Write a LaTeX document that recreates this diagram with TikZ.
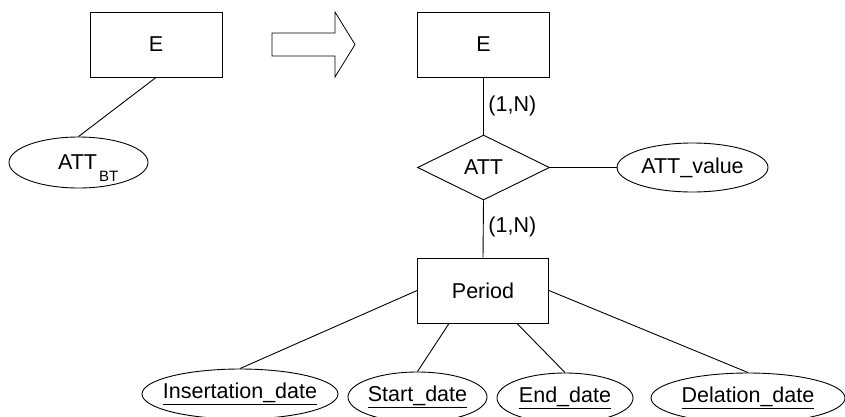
\documentclass[tikz,border=0pt]{standalone}
\usepackage{fontspec}
\setmainfont{Liberation Sans}
\usetikzlibrary{shapes.geometric}
\begin{document}
\begin{tikzpicture}[x=1pt,y=-1pt,line width=0.9pt,
  font=\fontsize{21.5}{24}\selectfont,
  entity/.style={draw,rectangle,inner sep=0pt,minimum width=132pt,minimum height=65pt},
  attr/.style={draw,ellipse,inner sep=0pt,minimum height=50pt},
  rel/.style={draw,diamond,inner sep=0pt,minimum width=132pt,minimum height=65pt},
  card/.style={anchor=west,inner sep=0pt}]
  \useasboundingbox (0,0) rectangle (845,416);

  % source schema
  \node[entity] (e1) at (156,44.5) {E};
  \node[attr,minimum width=139pt,minimum height=51pt] (attbt) at (78.5,162.5)
    {\makebox[0pt][l]{\hspace{-20.5pt}ATT\kern2pt\raisebox{-12pt}[0pt][0pt]{\fontsize{15}{17}\selectfont BT}}};
  \draw (e1.south) -- (attbt.north);

  % transformation arrow
  \draw[line width=0.8pt] (272,33) -- (335,33) -- (335,12) -- (355,44.5)
    -- (335,77) -- (335,56) -- (272,56) -- cycle;

  % target schema
  \node[entity] (e2) at (483.5,44.5) {E};
  \node[rel] (att) at (483.5,167.5) {ATT};
  \node[attr,minimum width=151pt,minimum height=49pt] (attval) at (692.5,167.5)
    {\makebox[0pt]{ATT\_value}};
  \node[entity,minimum width=131pt] (period) at (483,290.5) {Period};

  \node[card] (c1) at (488,106) {(1,N)};
  \node[card] (c2) at (488,227) {(1,N)};

  \node[attr,minimum width=196pt] (ins) at (240,394) {\makebox[0pt]{\underline{Insertation\_date}}};
  \node[attr,minimum width=139pt] (start) at (417.5,397) {\makebox[0pt]{\underline{Start\_date}}};
  \node[attr,minimum width=136pt] (end) at (565,398) {\makebox[0pt]{\underline{End\_date}}};
  \node[attr,minimum width=194pt] (del) at (748,398) {\makebox[0pt]{\underline{Delation\_date}}};

  \draw (e2.south) -- (att.north);
  \draw (att.south) -- (period.north);
  \draw (att.east) -- (attval.west);
  \draw (period.west) -- (ins.north);
  \draw ([xshift=-34pt]period.south) -- (start.north);
  \draw ([xshift=34pt]period.south) -- (end.north);
  \draw (period.east) -- (del.north);
\end{tikzpicture}
\end{document}
